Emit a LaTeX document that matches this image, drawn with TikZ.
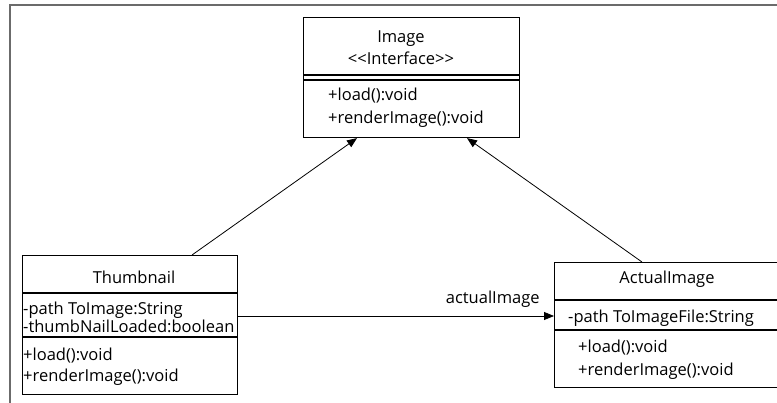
\documentclass[tikz,border=0pt]{standalone}
\usepackage{fontspec}
\setmainfont{Open Sans}
\usetikzlibrary{arrows.meta}
\usetikzlibrary{positioning}
\definecolor{rahmengrau}{rgb}{0.42,0.42,0.42}

\begin{document}
\begin{tikzpicture}[x=1pt,y=-1pt,
    klasse/.style={draw, line width=1.1pt, anchor=north west, inner sep=0pt},
    trenner/.style={line width=1.1pt},
    txt/.style={anchor=base west, inner sep=0pt, font=\fontsize{16.5}{18}\selectfont},
    titel/.style={txt, anchor=base},
    pfeil/.style={-{Triangle[length=10pt,width=8pt]}, line width=0.8pt}]

    \useasboundingbox (0,0) rectangle (777,402);

    % Rahmen oben und links
    \draw[rahmengrau, line width=1.6pt] (10,410) -- (10,5) -- (790,5);

    % Klassenkaesten
    \node[klasse, minimum width=216pt, minimum height=120pt] (image) at (303,17) {};
    \node[klasse, minimum width=215pt, minimum height=139pt] (thumb) at (22,255) {};
    \node[klasse, minimum width=226pt, minimum height=125pt] (actual) at (554,262) {};

    % Trennlinien
    \foreach \d in {58,63} {
        \draw[trenner] ([yshift=-\d pt]image.north west) -- ([yshift=-\d pt]image.north east);
    }
    \foreach \d in {38,82} {
        \draw[trenner] ([yshift=-\d pt]thumb.north west) -- ([yshift=-\d pt]thumb.north east);
    }
    \foreach \d in {38,68} {
        \draw[trenner] ([yshift=-\d pt]actual.north west) -- ([yshift=-\d pt]actual.north east);
    }

    % Interface Image
    \node[titel] (img-name) at (401,42) {Image};
    \node[titel] (img-typ) at (401,64) {<{}<Interface>{}>};
    \node[txt] (img-m1) at (328,100) {+load():void};
    \node[txt] (img-m2) at (328,123) {+renderImage():void};

    % Klasse Thumbnail
    \node[titel] (th-name) at (134,283) {Thumbnail};
    \node[txt] (th-a1) at (23,314) {-path ToImage:String};
    \node[txt] (th-a2) at (23,332) {-thumbNailLoaded:boolean};
    \node[txt] (th-m1) at (23,360) {+load():void};
    \node[txt] (th-m2) at (23,381) {+renderImage():void};

    % Klasse ActualImage
    \node[titel] (ai-name) at (667,283) {ActualImage};
    \node[txt] (ai-a1) at (568,322) {-path ToImageFile:String};
    \node[txt] (ai-m1) at (578,352) {+load():void};
    \node[txt] (ai-m2) at (578,375) {+renderImage():void};

    % Beziehungen
    \draw[pfeil] ([xshift=170pt]thumb.north west) -- ([xshift=54pt]image.south west);
    \draw[pfeil] ([xshift=88pt]actual.north west) -- ([xshift=164pt]image.south west);
    \draw[pfeil] ([yshift=-61pt]thumb.north east) -- ([yshift=-54pt]actual.north west)
        node[txt, anchor=base east, pos=1, xshift=-14pt, yshift=13pt] (assoz) {actualImage};
\end{tikzpicture}
\end{document}
